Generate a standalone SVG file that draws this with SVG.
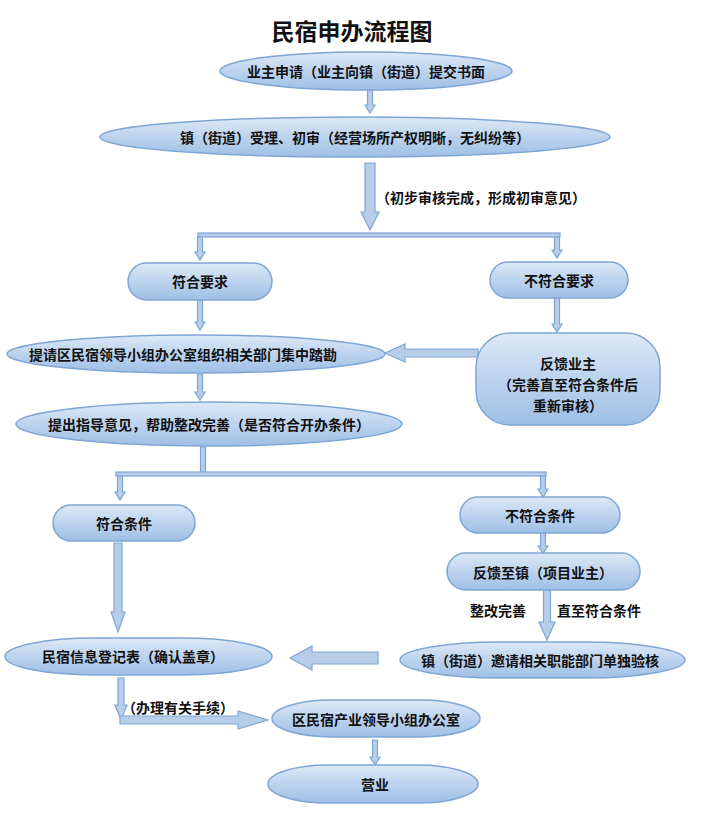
<svg xmlns="http://www.w3.org/2000/svg" width="709" height="814" viewBox="0 0 709 814">
<defs>
<linearGradient id="g" x1="0" y1="0" x2="0" y2="1">
<stop offset="0" stop-color="#dde9f7"/><stop offset="0.5" stop-color="#bcd3ee"/><stop offset="1" stop-color="#9fbfe5"/>
</linearGradient>
</defs>
<style>
.n{fill:url(#g);stroke:#7ea6d4;stroke-width:1.5}
.a{fill:#b7cde8;stroke:#7ea6d4;stroke-width:1.2}
text{font-family:"Noto Sans CJK SC","Noto Sans CJK JP",sans-serif;font-size:14px;font-weight:bold;fill:#111;text-anchor:middle;dominant-baseline:central}
.t{font-size:23px}
.l{text-anchor:start}
</style>
<rect width="709" height="814" fill="#fff"/>
<text class="t" x="352" y="30">民宿申办流程图</text>
<g id="connectors">
<polygon class="a" points="367.5,90 372.5,90 372.5,105 375,105 370,113 365,105 367.5,105"/>
<polygon class="a" points="365,163 375,163 375,212 379,212 370,230 361,212 365,212"/>
<text class="l" x="376" y="197">（初步审核完成，形成初审意见）</text>
<rect class="a" x="198" y="233" width="362" height="4"/>
<polygon class="a" points="197.5,237 202.5,237 202.5,252 205,252 200,260 195,252 197.5,252"/>
<polygon class="a" points="554.5,237 559.5,237 559.5,250 562,250 557,258 552,250 554.5,250"/>
<polygon class="a" points="197.5,300 202.5,300 202.5,322 205,322 200,330 195,322 197.5,322"/>
<polygon class="a" points="554.5,298 559.5,298 559.5,324 562,324 557,332 552,324 554.5,324"/>
<polygon class="a" points="478,349 478,357 405,357 405,362 385,353 405,344 405,349"/>
<polygon class="a" points="197.5,374 202.5,374 202.5,392 205,392 200,400 195,392 197.5,392"/>
<rect class="a" x="200.5" y="447" width="5" height="26"/>
<rect class="a" x="116" y="472" width="430" height="4"/>
<polygon class="a" points="117.5,476 122.5,476 122.5,492 125,492 120,500 115,492 117.5,492"/>
<polygon class="a" points="540.5,476 545.5,476 545.5,489 548,489 543,497 538,489 540.5,489"/>
<polygon class="a" points="114,543 122,543 122,612 125,612 118,632 111,612 114,612"/>
<polygon class="a" points="540.5,533 545.5,533 545.5,546 548,546 543,553 538,546 540.5,546"/>
<polygon class="a" points="543.5,590 550.5,590 550.5,622 555,622 547,640 539,622 543.5,622"/>
<text x="498" y="610">整改完善</text>
<text x="599" y="610">直至符合条件</text>
<polygon class="a" points="378,652 378,664 312,664 312,670 290,658 312,646 312,652"/>
<polygon class="a" points="118,678 124,678 124,705 127,705 121,720 115,705 118,705"/>
<polygon class="a" points="120,716 238,716 238,711 268,720 238,729 238,724 120,724"/>
<text x="178" y="707">（办理有关手续）</text>
<polygon class="a" points="372.5,740 377.5,740 377.5,757 380,757 375,765 370,757 372.5,757"/>
</g>
<g id="n1"><rect class="n" x="220" y="52" width="292" height="38" rx="146" ry="19"/><text x="366" y="71">业主申请（业主向镇（街道）提交书面</text></g>
<g id="n2"><ellipse class="n" cx="355" cy="137" rx="255" ry="20"/><text x="355" y="137">镇（街道）受理、初审（经营场所产权明晰，无纠纷等）</text></g>
<g id="n3"><rect class="n" x="128" y="263" width="144" height="37" rx="18.5"/><text x="200" y="281">符合要求</text></g>
<g id="n4"><rect class="n" x="490" y="262" width="138" height="36" rx="18"/><text x="559" y="280">不符合要求</text></g>
<g id="n5"><ellipse class="n" cx="196" cy="354" rx="189" ry="19"/><text x="183" y="354">提请区民宿领导小组办公室组织相关部门集中踏勘</text></g>
<g id="n6"><rect class="n" x="476" y="333" width="184" height="92" rx="34"/><text x="568" y="363">反馈业主</text><text x="568" y="384">（完善直至符合条件后</text><text x="568" y="405">重新审核）</text></g>
<g id="n7"><ellipse class="n" cx="209" cy="424" rx="193" ry="22"/><text x="209" y="424">提出指导意见，帮助整改完善（是否符合开办条件）</text></g>
<g id="n8"><rect class="n" x="53" y="505" width="142" height="36" rx="18"/><text x="124" y="523">符合条件</text></g>
<g id="n9"><rect class="n" x="460" y="497" width="160" height="36" rx="18"/><text x="540" y="515">不符合条件</text></g>
<g id="n10"><rect class="n" x="447" y="553" width="193" height="37" rx="18.5"/><text x="543" y="572">反馈至镇（项目业主）</text></g>
<g id="n11"><rect class="n" x="5" y="638" width="267" height="37" rx="90" ry="18.5"/><text x="133" y="656">民宿信息登记表（确认盖章）</text></g>
<g id="n12"><rect class="n" x="400" y="642" width="285" height="36" rx="100" ry="18"/><text x="540" y="660">镇（街道）邀请相关职能部门单独验核</text></g>
<g id="n13"><rect class="n" x="272" y="700" width="208" height="37" rx="60" ry="18.5"/><text x="376" y="719">区民宿产业领导小组办公室</text></g>
<g id="n14"><rect class="n" x="268" y="765" width="210" height="38" rx="60" ry="19"/><text x="375" y="784">营业</text></g>
</svg>
